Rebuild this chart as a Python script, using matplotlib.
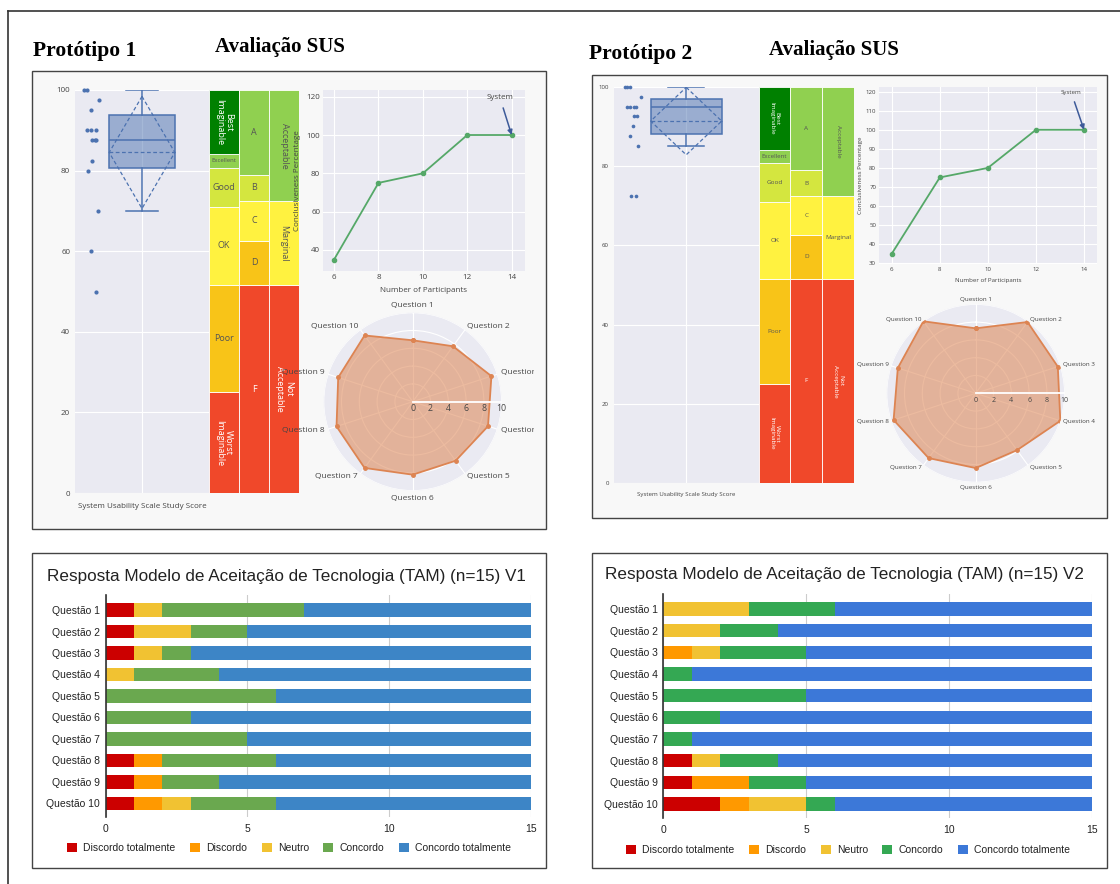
import numpy as np
import matplotlib
matplotlib.use('Agg')
import matplotlib.pyplot as plt
from matplotlib.patches import Rectangle, Polygon
from matplotlib.lines import Line2D
from matplotlib import transforms

# ---------------- data ----------------
sus_scores_p1 = [100, 100, 97.5, 95, 90, 90, 90, 87.5, 87.5, 87.5, 82.5, 80, 70, 60, 50]
sus_scores_p2 = [100, 100, 100, 97.5, 95, 95, 95, 95, 92.5, 92.5, 90, 87.5, 85, 72.5, 72.5]

adjective_bounds = [0, 25, 51.6, 71, 80.7, 84.1, 100]
adjective_labels = ['Worst\nImaginable', 'Poor', 'OK', 'Good', 'Excellent', 'Best\nImaginable']
letter_bounds = [0, 51.6, 62.6, 72.5, 78.9, 100]
letter_labels = ['F', 'D', 'C', 'B', 'A']
accept_bounds = [0, 51.6, 72.5, 100]
accept_labels = ['Not\nAcceptable', 'Marginal', 'Acceptable']

participants = [6, 8, 10, 12, 14]
conclusiveness_p1 = [35, 75, 80, 100, 100]
conclusiveness_p2 = [35, 75, 80, 100, 100]

radar_questions = ['Question %d' % i for i in range(1, 11)]
radar_p1 = [6.9, 7.7, 9.3, 8.9, 8.2, 8.2, 9.2, 9.0, 8.8, 9.2]
radar_p2 = [7.3, 9.9, 9.7, 10.0, 7.9, 8.4, 9.0, 9.7, 9.2, 10.0]

tam_questions = ['Questão %d' % i for i in range(1, 11)]
tam_categories = ['Discordo totalmente', 'Discordo', 'Neutro', 'Concordo', 'Concordo totalmente']
v1_discordo_totalmente = [1, 1, 1, 0, 0, 0, 0, 1, 1, 1]
v1_discordo = [0, 0, 0, 0, 0, 0, 0, 1, 1, 1]
v1_neutro = [1, 2, 1, 1, 0, 0, 0, 0, 0, 1]
v1_concordo = [5, 2, 1, 3, 6, 3, 5, 4, 2, 3]
v1_concordo_totalmente = [8, 10, 12, 11, 9, 12, 10, 9, 11, 9]
v2_discordo_totalmente = [0, 0, 0, 0, 0, 0, 0, 1, 1, 2]
v2_discordo = [0, 0, 1, 0, 0, 0, 0, 0, 2, 1]
v2_neutro = [3, 2, 1, 0, 0, 0, 0, 1, 0, 2]
v2_concordo = [3, 2, 3, 1, 5, 2, 1, 2, 2, 1]
v2_concordo_totalmente = [9, 11, 10, 14, 10, 13, 14, 11, 10, 9]

# ---------------- styles ----------------
jitter_p1 = [-0.43, -0.41, -0.32, -0.38, -0.41, -0.38, -0.34, -0.37, -0.35, -0.34, -0.37, -0.40, -0.33, -0.38, -0.34]
jitter_p2 = [-0.42, -0.39, -0.41, -0.31, -0.41, -0.39, -0.345, -0.36, -0.36, -0.34, -0.37, -0.39, -0.33, -0.38, -0.345]
RED, AMBER, YELLOW, YGREEN, LGREEN, DGREEN = '#f0482a', '#f8c418', '#fff240', '#d4e63f', '#90d050', '#008000'
adjective_colors = [RED, AMBER, YELLOW, YGREEN, LGREEN, DGREEN]
letter_colors = [RED, AMBER, YELLOW, YGREEN, LGREEN]
accept_colors = [RED, YELLOW, LGREEN]
TXT = '#555555'
BOXC = '#4c72b0'
PLOTBG = '#eaeaf2'
PAPER = '#f8f8f8'
tam_colors_v1 = ['#cc0000', '#ff9900', '#f1c232', '#6aa84f', '#3d85c6']
tam_colors_v2 = ['#cc0000', '#ff9900', '#f1c232', '#34a853', '#3c78d8']

W, H = 1120, 884
fig = plt.figure(figsize=(W / 100, H / 100), dpi=100)
fig.patch.set_facecolor('white')
plt.rcParams['font.family'] = ['Open Sans', 'DejaVu Sans']


def axpx(x0, y0, x1, y1, **kw):
    return fig.add_axes([x0 / W, 1 - y1 / H, (x1 - x0) / W, (y1 - y0) / H], **kw)


def rect_px(x0, y0, x1, y1, **kw):
    r = Rectangle((x0 / W, 1 - y1 / H), (x1 - x0) / W, (y1 - y0) / H,
                  transform=fig.transFigure, **kw)
    fig.add_artist(r)
    return r


# outer frame
fig.add_artist(Line2D([8 / W, 8 / W], [0, 1 - 11 / H], transform=fig.transFigure, color='#333333', lw=1.2))
fig.add_artist(Line2D([8 / W, 1], [1 - 11 / H, 1 - 11 / H], transform=fig.transFigure, color='#333333', lw=1.2))

# titles
serif = ['Liberation Serif', 'DejaVu Serif']
fig.text(33 / W, 1 - 56 / H, 'Protótipo 1', family=serif, weight='bold', fontsize=15.5, va='baseline')
fig.text(215 / W, 1 - 52 / H, 'Avaliação SUS', family=serif, weight='bold', fontsize=15, va='baseline')
fig.text(589 / W, 1 - 59 / H, 'Protótipo 2', family=serif, weight='bold', fontsize=15.5, va='baseline')
fig.text(769 / W, 1 - 55 / H, 'Avaliação SUS', family=serif, weight='bold', fontsize=15, va='baseline')


def box_stats(scores):
    arr = np.array(scores, dtype=float)
    q1, med, q3 = np.percentile(arr, [25, 50, 75], method='hazen')
    iqr = q3 - q1
    lo = arr[arr >= q1 - 1.5 * iqr].min()
    hi = arr[arr <= q3 + 1.5 * iqr].max()
    return dict(med=med, q1=q1, q3=q3, whislo=lo, whishi=hi, fliers=[])


def sus_panel(g, scores, jitter, conc, rvals):
    fs = g['fs']
    rect_px(*g['panel'], fc=PAPER, ec='#444444', lw=1.0, zorder=-1)

    # ---- box plot ----
    ax = axpx(*g['box'])
    ax.set_facecolor(PLOTBG)
    w = 0.49
    ax.bxp([box_stats(scores)], positions=[0], widths=w, patch_artist=True,
           showfliers=False, capwidths=w / 2,
           boxprops=dict(facecolor=(0.298, 0.447, 0.69, 0.5), edgecolor=BOXC, lw=1.1),
           medianprops=dict(color=BOXC, lw=1.1),
           whiskerprops=dict(color=BOXC, lw=1.1),
           capprops=dict(color=BOXC, lw=1.1))
    m = np.mean(scores)
    s = np.std(scores)
    ax.plot([-w / 2, w / 2], [m, m], color=BOXC, lw=0.9, ls=(0, (3, 2)))
    ax.add_patch(Polygon([[0, m + s], [w / 2, m], [0, m - s], [-w / 2, m]], closed=True,
                         fill=False, ec=BOXC, lw=0.9, ls=(0, (3, 2))))
    ax.scatter(jitter, scores, s=g['ps'], color=BOXC, zorder=4, clip_on=False, lw=0)
    ax.set_xlim(-0.5, 0.5)
    ax.set_ylim(0, 100)
    ax.set_yticks([0, 20, 40, 60, 80, 100])
    ax.set_xticks([0], ['System Usability Scale Study Score'])
    ax.tick_params(length=0, labelsize=fs, labelcolor='#444444')
    ax.tick_params(axis='x', pad=g['xpad'])
    ax.grid(True, color='white', lw=0.8)
    ax.set_axisbelow(True)
    for sp in ax.spines.values():
        sp.set_visible(False)

    # ---- grade bars ----
    axb = axpx(*g['bars'])
    cols = [(adjective_bounds, adjective_labels, adjective_colors),
            (letter_bounds, letter_labels, letter_colors),
            (accept_bounds, accept_labels, accept_colors)]
    for ci, (bounds, labels, colors) in enumerate(cols):
        b = np.array(bounds)
        axb.bar([ci] * (len(b) - 1), np.diff(b), bottom=b[:-1], width=1.0, color=colors,
                edgecolor='white', lw=0.6)
        for k, lab in enumerate(labels):
            yc = (b[k] + b[k + 1]) / 2
            white = lab in ('Worst\nImaginable', 'Best\nImaginable', 'F', 'Not\nAcceptable')
            rot = -90 if ('\n' in lab or lab == 'Acceptable' or (lab == 'Marginal' and g['marg_rot'])) else 0
            size = g['fs_exc'] if lab == 'Excellent' else g['fs_bar']
            axb.text(ci, yc, lab, ha='center', va='center', rotation=rot, rotation_mode='anchor',
                     color='white' if white else TXT, fontsize=size, linespacing=1.0)
    axb.set_xlim(-0.5, 2.5)
    axb.set_ylim(0, 100)
    axb.axis('off')

    # ---- line chart ----
    axl = axpx(*g['line'])
    axl.set_facecolor(PLOTBG)
    axl.plot(participants, conc, color='#55a868', lw=1.3, marker='o', ms=3)
    axl.set_xlim(*g['lxlim'])
    axl.set_ylim(*g['lylim'])
    axl.set_yticks(g['lyticks'])
    axl.set_xticks(participants)
    axl.tick_params(length=0, labelsize=fs, labelcolor='#444444', pad=2)
    axl.grid(True, color='white', lw=0.8)
    axl.set_axisbelow(True)
    for sp in axl.spines.values():
        sp.set_visible(False)
    axl.set_xlabel('Number of Participants', fontsize=fs, color='#444444')
    axl.set_ylabel('Conclusiveness Percentage', fontsize=fs, color='#444444')
    axl.xaxis.set_label_coords(0.5, g['xlab_y'])
    axl.yaxis.set_label_coords(g['ylab_x'], 0.5)
    axl.annotate('System', xy=(participants[-1], conc[-1]), xytext=(13.47, 119.5),
                 fontsize=fs, color='#444444', ha='center', va='center',
                 arrowprops=dict(arrowstyle='-|>', color='#3d5a99', lw=1.1, mutation_scale=7,
                                 shrinkA=3, shrinkB=0))

    # ---- radar ----
    cx, cy, R = g['radar']
    axr = axpx(cx - R, cy - R, cx + R, cy + R, projection='polar')
    axr.set_theta_zero_location('N')
    axr.set_theta_direction(-1)
    axr.set_axisbelow(True)
    ang = np.arange(len(rvals)) * 2 * np.pi / len(rvals)
    vals = np.array(rvals)
    axr.fill(np.append(ang, ang[0]), np.append(vals, vals[0]), color='#dd8452', alpha=0.55, lw=0,
             zorder=2)
    axr.plot(np.append(ang, ang[0]), np.append(vals, vals[0]), color='#dd8452', lw=1.3,
             marker='o', ms=2.5, zorder=3)
    axr.set_ylim(0, 10)
    axr.set_facecolor(PLOTBG)
    axr.set_xticks(ang)
    axr.set_xticklabels([])
    axr.set_yticks([2, 4, 6, 8, 10])
    axr.set_yticklabels([])
    axr.grid(True, color='white', lw=0.8)
    axr.spines['polar'].set_visible(False)
    axr.plot([np.pi / 2, np.pi / 2], [0, 10], color='white', lw=1.3, zorder=4)
    off = transforms.offset_copy(axr.transData, fig=fig, x=0, y=-7, units='dots')
    for t in [0, 2, 4, 6, 8, 10]:
        axr.text(np.pi / 2, t, str(t), transform=off, ha='center', va='center',
                 fontsize=g['fs_rt'], color='#444444', zorder=5)
    clip = Rectangle((g['panel'][0] / W, 1 - g['panel'][3] / H),
                     (g['clip_x'] - g['panel'][0]) / W, (g['panel'][3] - g['panel'][1]) / H,
                     transform=fig.transFigure, visible=False)
    for a, lab in zip(ang, radar_questions):
        sa, ca = np.sin(a), np.cos(a)
        ha = 'left' if sa > 0.1 else ('right' if sa < -0.1 else 'center')
        va = 'bottom' if ca > 0.95 else ('top' if ca < -0.95 else 'center')
        t = axr.text(a, g['lab_r'], lab, ha=ha, va=va, fontsize=g['fs_rl'], color='#444444')
        t.set_clip_path(clip)
        t.set_clip_on(True)


geo1 = dict(panel=(32, 71, 546, 529), box=(75, 90, 209, 493), bars=(209, 90, 299, 493),
            line=(323, 90, 525, 271), lxlim=(5.5, 14.6), lylim=(29, 123.5),
            lyticks=[40, 60, 80, 100, 120], xlab_y=-0.088, ylab_x=-0.109,
            radar=(412.7, 401.7, 89), lab_r=10.45, clip_x=534,
            fs=5.8, fs_bar=6.5, fs_exc=4.3, fs_rt=6.3, fs_rl=6.0, ps=9, xpad=7,
            marg_rot=True)
geo2 = dict(panel=(592, 75, 1107, 518), box=(613.7, 86.7, 758.7, 483.3), bars=(758.7, 86.7, 854, 483.3),
            line=(879, 86.7, 1097, 264), lxlim=(5.47, 14.54), lylim=(29.6, 122.6),
            lyticks=[30, 40, 50, 60, 70, 80, 90, 100, 110, 120], xlab_y=-0.077, ylab_x=-0.075,
            radar=(975.7, 393.3, 89), lab_r=10.3, clip_x=1107,
            fs=4.4, fs_bar=4.6, fs_exc=4.4, fs_rt=5.0, fs_rl=4.5, ps=7, xpad=6,
            marg_rot=False)

sus_panel(geo1, sus_scores_p1, jitter_p1, conclusiveness_p1, radar_p1)
sus_panel(geo2, sus_scores_p2, jitter_p2, conclusiveness_p2, radar_p2)

# ---------------- TAM charts ----------------
sans = ['Liberation Sans', 'DejaVu Sans']


def tam_chart(panel, axrect, ylim, title, title_xy, series, colors, legend_xy):
    rect_px(*panel, fc='white', ec='#444444', lw=1.0, zorder=-1)
    ax = axpx(*axrect)
    y = np.arange(len(tam_questions))
    left = np.zeros(len(tam_questions))
    for vals, col, name in zip(series, colors, tam_categories):
        v = np.array(vals, dtype=float)
        ax.barh(y, v, left=left, height=0.62, color=col, label=name, zorder=2)
        left += v
    ax.set_xlim(0, 15)
    ax.set_ylim(*ylim)
    ax.set_xticks([0, 5, 10, 15])
    ax.set_yticks(y)
    ax.set_yticklabels(tam_questions, family=sans)
    for lab in ax.get_xticklabels():
        lab.set_family(sans)
    ax.tick_params(length=0, labelsize=7.5, labelcolor='#222222')
    ax.tick_params(axis='y', pad=4)
    ax.tick_params(axis='x', pad=5)
    ax.grid(True, axis='x', color='#cccccc', lw=0.8, zorder=0)
    ax.set_axisbelow(True)
    for k in ('top', 'right', 'bottom'):
        ax.spines[k].set_visible(False)
    ax.spines['left'].set_color('#333333')
    ax.spines['left'].set_linewidth(1.2)
    ax.spines['left'].set_zorder(3)
    fig.text(title_xy[0] / W, 1 - title_xy[1] / H, title, family=sans, fontsize=12.3,
             color='#222222', ha='left', va='center')
    leg = ax.legend(ncol=5, loc='center', bbox_to_anchor=(legend_xy[0] / W, 1 - legend_xy[1] / H),
                    bbox_transform=fig.transFigure, frameon=False,
                    prop=dict(family=sans, size=7.5), handlelength=0.95, handleheight=0.95,
                    handletextpad=0.6, columnspacing=1.4, borderpad=0, borderaxespad=0)
    for t in leg.get_texts():
        t.set_color('#222222')


tam_chart((32, 553, 546, 868), (105.7, 595, 530.7, 816.7), (9.62, -0.7),
          'Resposta Modelo de Aceitação de Tecnologia (TAM) (n=15) V1', (47, 576.7),
          [v1_discordo_totalmente, v1_discordo, v1_neutro, v1_concordo, v1_concordo_totalmente],
          tam_colors_v1, (289, 848.3))
tam_chart((592, 553, 1107, 868), (663.3, 594.3, 1091.7, 818.3), (9.66, -0.68),
          'Resposta Modelo de Aceitação de Tecnologia (TAM) (n=15) V2', (605, 575),
          [v2_discordo_totalmente, v2_discordo, v2_neutro, v2_concordo, v2_concordo_totalmente],
          tam_colors_v2, (848, 850))

fig.savefig('out.png', dpi=100, facecolor='white')
